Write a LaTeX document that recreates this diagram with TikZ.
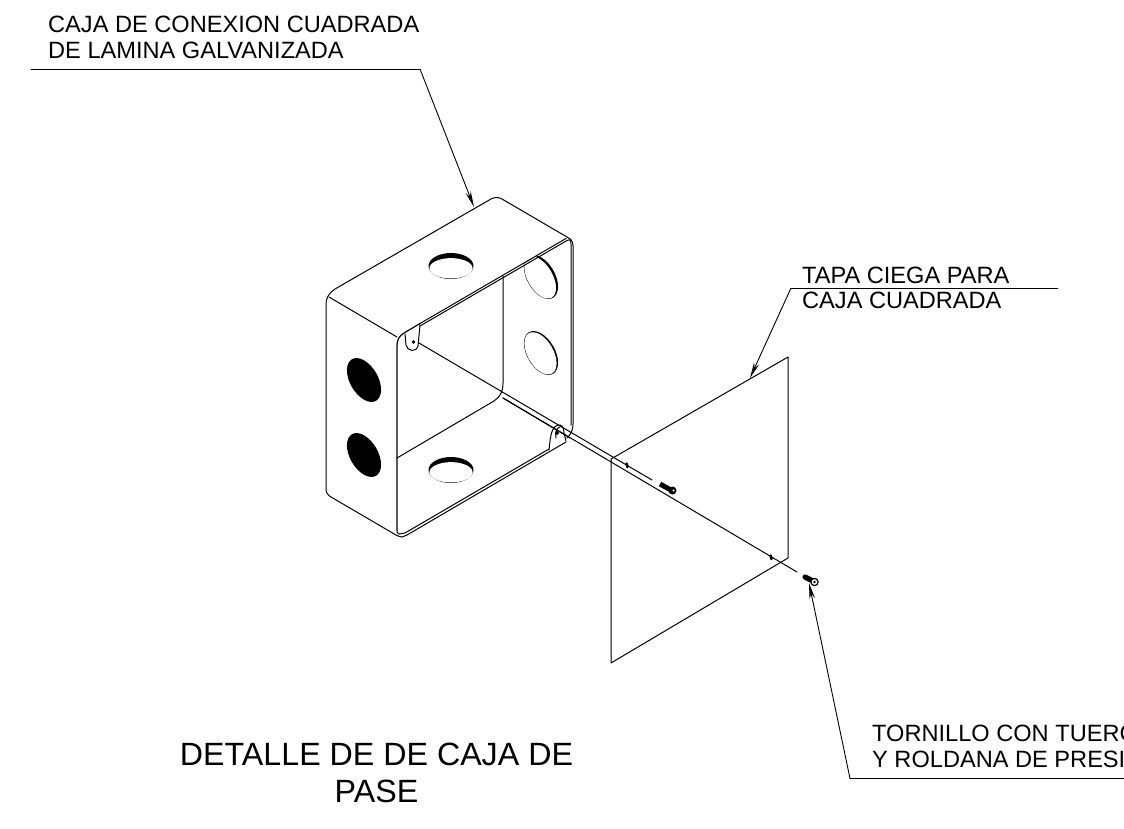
\documentclass[tikz,border=0pt]{standalone}
\usepackage{fontspec}
\setmainfont{Liberation Sans}
\usetikzlibrary{arrows.meta}
\tikzset{
  ln/.style={draw=black,line width=1pt,line join=round,line cap=round},
  frameln/.style={draw=black,line width=1.2pt,line join=round,line cap=round},
  thin line/.style={draw=black,line width=0.9pt,line cap=round},
  lbl/.style={inner sep=0pt,anchor=base west,font=\fontsize{23.6}{23.6}\selectfont},
  ttl/.style={inner sep=0pt,anchor=base,font=\fontsize{32.2}{32.2}\selectfont},
  leader/.style={draw=black,line width=0.9pt,-{Stealth[length=16pt,width=5.5pt]}},
}
\newcommand{\tiltedhole}[3]{%
  \fill[shift={(#1)},rotate=-60] (0,0) ellipse (24 and 14);
  \fill[white,shift={(#1)},rotate=-60] (0,#2) ellipse (23.2 and #3);
}
\newcommand{\flathole}[1]{%
  \fill (451,#1) ellipse (22.5 and 13);
  \fill[white,yshift=-2.3pt] (451,#1) ellipse (21.6 and 10.2);
}
\begin{document}
\begin{tikzpicture}[x=1pt,y=-1pt]
\useasboundingbox (0,0) rectangle (1124,828);
\clip (0,0) rectangle (1124,828);
\fill[white] (0,0) rectangle (1124,828);

% labels
\node[lbl] (t1a) at (48,32) {CAJA DE CONEXION CUADRADA};
\node[lbl] (t1b) at (48,58) {DE LAMINA GALVANIZADA};
\node[lbl] (t2a) at (802,283.5) {TAPA CIEGA PARA};
\node[lbl] (t2b) at (802,308.5) {CAJA CUADRADA};
\node[lbl] (t3a) at (872,741) {TORNILLO CON TUERCA};
\node[lbl] (t3b) at (872,767) {Y ROLDANA DE PRESION};
\node[ttl] (t4a) at (376.5,765) {DETALLE DE DE CAJA DE};
\node[ttl] (t4b) at (376.5,802) {PASE};

% leaders
\coordinate (l1s) at (31,69); \coordinate (l1m) at (420,69); \coordinate (l1e) at (474,207);
\coordinate (l2s) at (1058,288); \coordinate (l2m) at (791,288); \coordinate (l2e) at (750,378);
\coordinate (l3s) at (1124,778.5); \coordinate (l3m) at (850,778.5); \coordinate (l3e) at (809,583);
\draw[thin line] (l1s) -- (l1m);
\draw[leader] (l1m) -- (l1e);
\draw[thin line] (l2s) -- (l2m);
\draw[leader] (l2m) -- (l2e);
\draw[thin line] (l3s) -- (l3m);

% right holes (under the frame)
\begin{scope}
\clip (503,276) -- (567,239) -- (567,400) -- (503,400) -- cycle;
\tiltedhole{541,277}{1}{12.5}
\end{scope}
\tiltedhole{541,353}{0.6}{12.9}
% flat holes
\flathole{266}
\flathole{470}
% left holes
\fill[shift={(364,380)},rotate=-60] (0,0) ellipse (24 and 14);
\fill[shift={(364,455)},rotate=-60] (0,0) ellipse (24 and 14);

% outer box
\draw[ln] (402,537) .. controls (400,537) and (398,536) .. (396,535)
  -- (331,497) .. controls (328,495) and (326,493) .. (326,489)
  -- (326,304) .. controls (326,298) and (329,293) .. (335,289)
  -- (491,199) .. controls (495,197) and (498,197) .. (502,199)
  -- (567,237) .. controls (571,239) and (573,241) .. (573,246)
  -- (573,424) .. controls (573,430) and (571,434) .. (567,438);
\draw[ln] (329,297) -- (397,337);
\draw[ln] (402,537) -- (407,535) -- (566,442);
\draw[ln] (399,534) -- (405,533) -- (549,449);
% front frame
\draw[frameln] (397,530) -- (397,346) .. controls (397,340) and (399,336) .. (404,333) -- (420,323.5);
\draw[ln] (399,534) .. controls (397,533) and (397,532) .. (397,530);
\draw[ln] (420,326) -- (567,240.5) .. controls (570,239) and (571,240) .. (571,244) -- (571,425);
\draw[ln] (420,323.5) -- (566,238.5);
% inner back
\draw[ln] (503,276) -- (503,383) .. controls (503,392) and (500,397) .. (494,401) -- (397,458);
% tab 1
\draw[ln] (405,334) -- (406,345) .. controls (407,351) and (416,353) .. (418,346) -- (420,325);
\draw[fill=black] (413.5,342) circle (1.6);
% axis lines
\draw[ln] (419,343) -- (652,480);
\draw[ln] (503,398) -- (797,572);
% tab 2
\draw[fill=white,draw=none] (556,437) ellipse (5 and 7);
\draw[ln] (503,398) -- (570,438);
\draw[ln] (549,450) -- (550,441) .. controls (551,433) and (553,426) .. (558,425) .. controls (562,424) and (564,428) .. (564,433) -- (566,441);
\draw[ln] (556,438) .. controls (555,432) and (556,428) .. (560,427);
\draw[fill=black] (557,433) circle (1.8);

% panel
\draw[ln] (611,459) -- (788,357) -- (788,558) -- (611,663) -- cycle;
% screw marks
\draw[line width=2.6pt,line cap=round] (626.5,463.5) -- (627.5,467);
\draw[line width=2.6pt,line cap=round] (770.5,555.5) -- (771.5,559);
% screw 1
\draw[line width=5pt] (660,484) -- (670,489.5);
\fill (672.5,490.5) circle (4);
\fill[white] (673.5,490.5) circle (1.1);
% screw 2
\draw[line width=5.2pt,line cap=round] (805,577) -- (812,580.5);
\draw[line width=1.2pt,fill=white] (814.5,582) circle (3.6);
\fill (814.5,582) circle (1.3);
% leader 3 on top of the screw
\draw[leader] (l3m) -- (l3e);
\end{tikzpicture}
\end{document}
